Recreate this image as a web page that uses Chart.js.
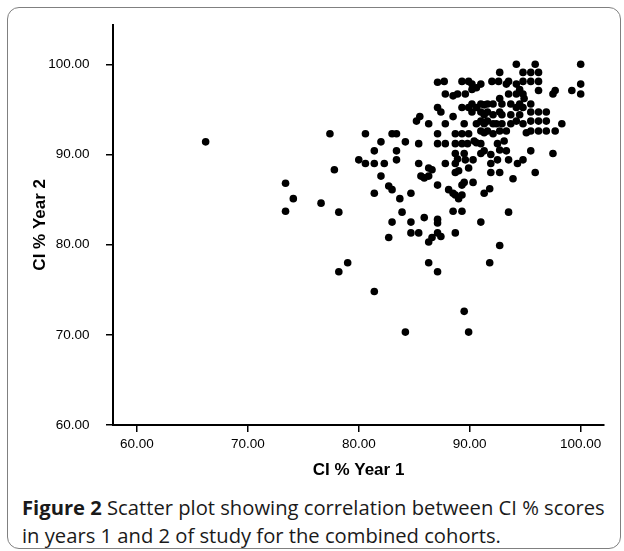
<!DOCTYPE html>
<html><head><meta charset="utf-8">
<script src="https://cdn.jsdelivr.net/npm/chart.js@4.4.1/dist/chart.umd.min.js"></script>
<style>
html,body{margin:0;padding:0;background:#fff;}
body{width:624px;height:551px;position:relative;overflow:hidden;}
#frame{position:absolute;left:7px;top:7px;width:612px;height:540px;border:1.5px solid #808080;border-radius:12px;}
#wrap{position:absolute;left:0;top:0;width:624px;height:490px;}
#cap{position:absolute;left:22px;top:493px;font-family:'Open Sans',sans-serif;font-size:20.2px;line-height:28px;color:#1a1a1a;white-space:nowrap;}
#cap b{font-weight:700;}
#probe{position:absolute;left:-999px;top:0;font-family:'Liberation Sans';}
</style></head><body>
<div id="frame"></div>
<div id="wrap"><canvas id="c" width="624" height="490"></canvas></div>
<div id="cap"><b>Figure 2</b> Scatter plot showing correlation between CI % scores<br>in years 1 and 2 of study for the combined cohorts.</div>
<span id="probe">0 <b>0</b></span>
<script>
// CI % Year 1 (x) and CI % Year 2 (y) for each student
const year1 = [66.2,73.4,73.4,74.1,76.6,77.4,77.8,78.2,78.2,79.0,80.0,80.6,80.6,81.4,81.4,81.4,81.4,82.0,82.0,82.3,82.7,83.0,82.7,83.0,83.0,83.4,83.4,83.4,83.7,83.9,84.2,84.2,84.7,84.7,84.7,85.2,85.5,85.4,85.4,85.4,85.6,85.9,85.9,86.3,86.3,86.3,86.6,86.3,86.3,86.6,87.1,87.1,87.1,87.1,87.1,87.1,87.1,87.1,87.1,87.4,87.4,87.7,87.8,87.8,87.8,87.8,88.1,88.5,88.5,88.5,88.5,88.7,88.7,88.7,88.7,88.7,88.7,88.7,88.9,88.9,89.0,89.0,89.3,89.3,89.3,89.3,89.3,89.3,89.3,89.5,89.5,89.5,89.5,89.6,89.6,89.8,89.9,89.9,89.9,89.9,89.9,90.2,90.2,90.2,90.2,90.3,90.3,90.4,90.6,90.6,90.6,90.6,91.0,91.0,91.0,91.0,91.0,91.0,91.0,91.0,91.3,91.3,91.3,91.3,91.3,91.3,91.6,91.6,91.6,91.6,91.8,91.8,91.9,91.9,91.9,92.0,92.1,92.1,92.1,92.1,92.4,92.5,92.5,92.6,92.7,92.7,92.7,92.7,92.7,92.7,92.7,92.9,92.9,92.9,93.1,93.3,93.3,93.3,93.5,93.5,93.5,93.5,93.7,93.7,93.7,93.9,94.2,94.2,94.2,94.2,94.2,94.3,94.5,94.5,94.5,94.8,94.8,94.8,94.8,94.8,94.8,94.9,95.1,95.5,95.5,95.5,95.5,95.5,95.5,95.5,95.9,95.9,96.2,96.2,96.2,96.2,96.2,96.2,96.9,96.9,96.9,97.5,97.7,97.7,97.5,98.3,99.2,100.0,100.0,100.0];
const year2 = [91.4,86.8,83.7,85.1,84.6,92.3,88.3,83.6,77.0,78.0,89.4,92.3,89.0,90.4,89.0,85.7,74.8,91.4,87.6,89.0,86.5,86.1,80.8,82.5,92.3,92.3,90.4,89.4,85.1,83.6,91.4,70.3,85.7,82.5,81.3,93.7,94.2,91.2,89.0,81.3,87.6,87.4,83.0,93.4,88.5,87.6,88.3,80.3,78.0,80.8,98.0,95.2,92.3,91.2,86.6,82.8,82.4,81.3,77.0,94.7,80.9,98.1,96.7,93.4,91.2,89.0,86.1,96.5,94.2,85.7,83.7,92.3,91.2,90.1,89.0,88.0,85.5,81.3,96.7,89.5,88.2,85.1,98.1,95.2,92.3,91.2,86.6,85.5,83.7,93.4,90.1,86.9,72.6,96.7,89.4,91.2,98.1,95.2,92.3,88.5,70.3,97.8,97.2,95.6,94.7,89.4,86.9,91.5,97.4,95.2,93.4,91.3,97.8,95.6,94.7,93.7,92.6,91.2,90.1,82.5,85.7,95.5,94.4,93.4,92.4,90.4,95.6,94.7,93.7,92.6,86.2,78.0,90.0,88.0,89.0,98.1,95.6,94.4,93.4,92.3,93.4,91.2,89.4,98.1,99.1,96.2,94.7,92.6,88.0,90.5,79.9,95.6,94.4,93.4,91.5,97.8,92.6,90.4,98.1,96.7,89.4,83.6,95.6,94.4,93.4,87.3,100.0,97.8,96.7,95.2,93.7,89.0,97.2,95.6,94.4,99.1,98.1,96.7,95.2,93.4,89.4,96.2,92.4,99.1,98.1,95.6,94.7,93.7,92.6,90.4,100.0,88.0,99.1,98.1,97.1,94.7,93.7,92.6,94.7,93.7,92.6,96.7,97.1,92.6,90.1,93.4,97.1,100.0,97.8,96.7];
const xTicks = [60, 70, 80, 90, 100];
const yTicks = [60, 70, 80, 90, 100];
const xTitle = 'CI % Year 1';
const yTitle = 'CI % Year 2';

function draw() {
  const points = year1.map((x, i) => ({x: x, y: year2[i]}));
  const tickFont = {family: '"Liberation Sans", Arial, Helvetica', size: 13.5};
  const titleFont = {family: '"Liberation Sans", Arial, Helvetica', size: 17, weight: 'bold'};
  new Chart(document.getElementById('c'), {
    type: 'scatter',
    data: {datasets: [{data: points, backgroundColor: '#000', borderWidth: 0, pointRadius: 3.8, pointHoverRadius: 3.8}]},
    options: {
      responsive: false, animation: false, devicePixelRatio: 1,
      plugins: {legend: {display: false}, tooltip: {enabled: false}},
      layout: {padding: {left: 0, top: 23.5, right: 20, bottom: 0}},
      scales: {
        x: {
          type: 'linear', min: 57.85, max: 102.1,
          afterBuildTicks: s => { s.ticks = xTicks.map(v => ({value: v})); },
          afterFit: s => { s.height = 65; },
          border: {display: true, color: '#000', width: 2},
          grid: {display: true, drawOnChartArea: false, drawTicks: true, tickLength: 7, color: '#000', lineWidth: 1.5},
          ticks: {color: '#000', font: tickFont, padding: 4, maxRotation: 0, autoSkip: false, callback: v => Number(v).toFixed(2)},
          title: {display: true, text: xTitle, color: '#000', font: titleFont, padding: {top: 0, bottom: 9}}
        },
        y: {
          type: 'linear', min: 60, max: 104.4,
          afterBuildTicks: s => { s.ticks = yTicks.map(v => ({value: v})); },
          afterFit: s => { s.width = 113; },
          border: {display: true, color: '#000', width: 2},
          grid: {display: true, drawOnChartArea: false, drawTicks: true, tickLength: 7, color: '#000', lineWidth: 1.5},
          ticks: {color: '#000', font: tickFont, padding: 16.5, autoSkip: false, callback: v => Number(v).toFixed(2)},
          title: {display: true, text: yTitle, color: '#000', font: titleFont, padding: {top: 30, bottom: 0}}
        }
      }
    }
  });
}
Promise.all([
  document.fonts.load('13.5px "Liberation Sans"'),
  document.fonts.load('bold 17px "Liberation Sans"')
]).then(draw, draw);
</script>
</body></html>
